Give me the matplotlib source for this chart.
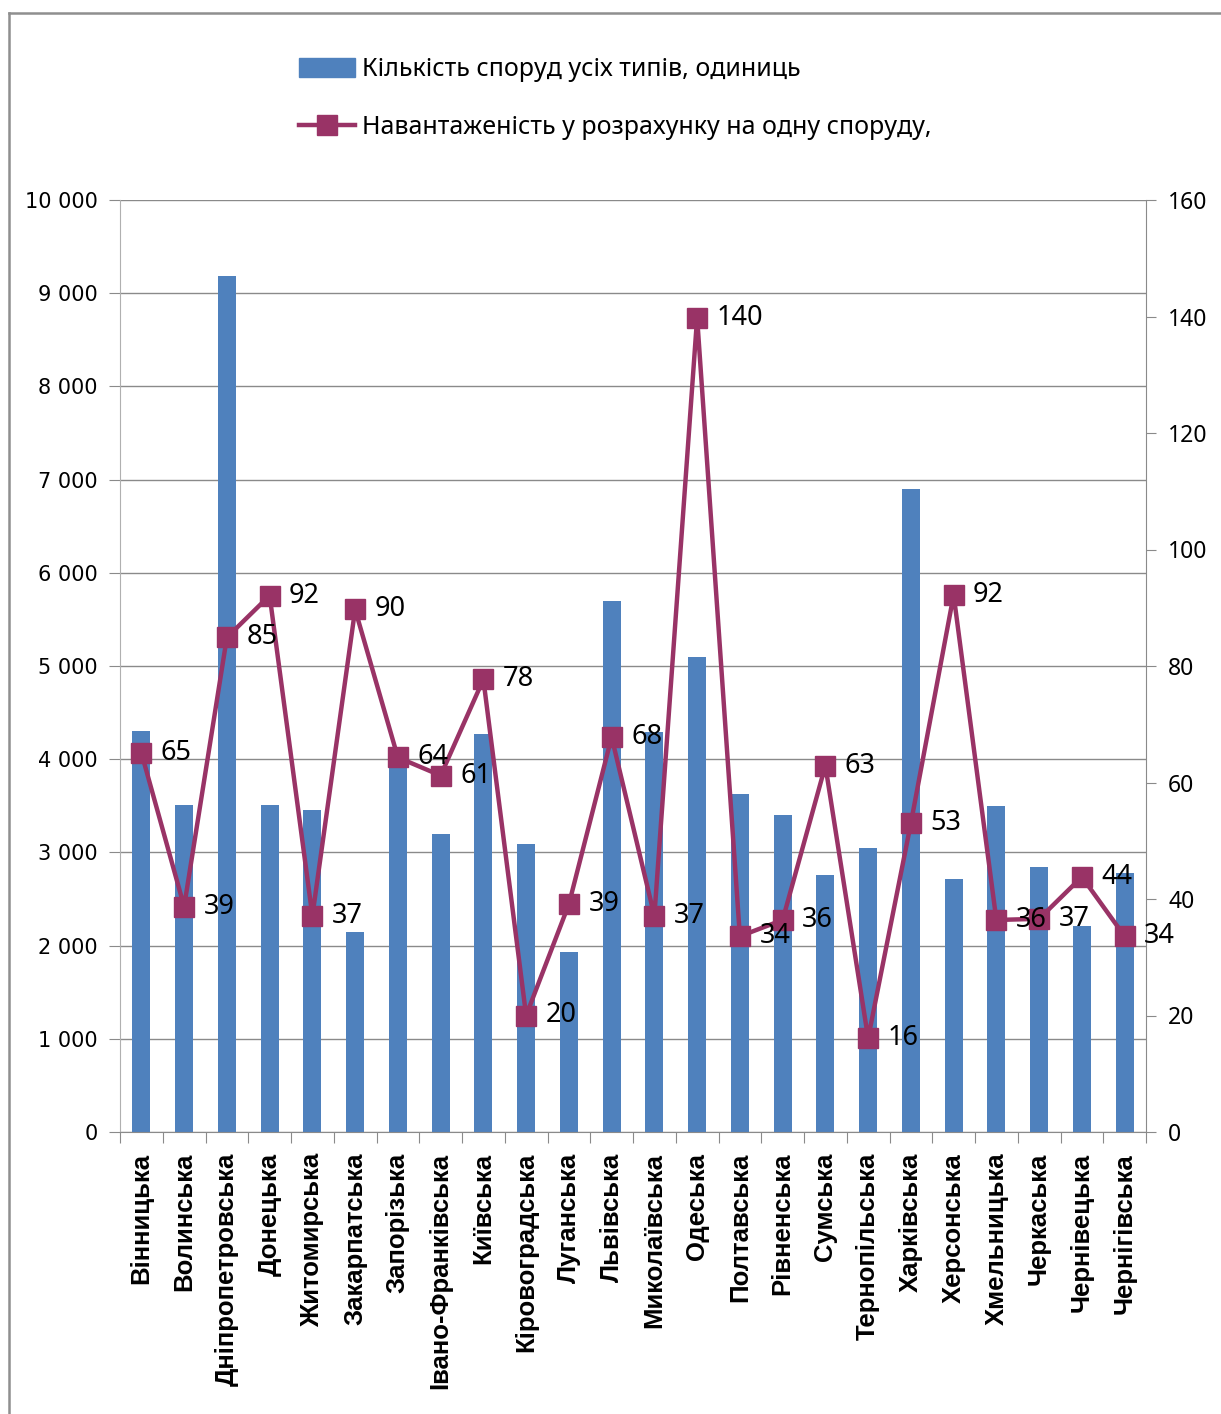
import matplotlib.pyplot as plt
from matplotlib.lines import Line2D
from matplotlib.patches import Patch

# ── data ─────────────────────────────────────────────────────────────────────
regions = [
    "Вінницька", "Волинська", "Дніпропетровська", "Донецька", "Житомирська",
    "Закарпатська", "Запорізька", "Івано-Франківська", "Київська",
    "Кіровоградська", "Луганська", "Львівська", "Миколаївська", "Одеська",
    "Полтавська", "Рівненська", "Сумська", "Тернопільська", "Харківська",
    "Херсонська", "Хмельницька", "Черкаська", "Чернівецька", "Чернігівська",
]
buildings = [4300, 3510, 9180, 3510, 3455, 2145, 3950, 3200, 4270, 3090,
             1930, 5700, 4290, 5100, 3625, 3400, 2760, 3050, 6900, 2715,
             3500, 2845, 2210, 2780]
load = [65.1, 38.7, 84.9, 92.1, 37.1, 89.7, 64.3, 61.2, 77.7, 20.0,
        39.1, 67.8, 37.1, 139.8, 33.6, 36.4, 62.9, 16.1, 53.0, 92.2,
        36.4, 36.6, 43.8, 33.6]

left_ticks = list(range(0, 10001, 1000))
right_ticks = list(range(0, 161, 20))

legend_bar = "Кількість споруд усіх типів, одиниць"
legend_line = "Навантаженість у розрахунку на одну споруду,"

BAR_COLOR = "#4f81bd"
LINE_COLOR = "#993366"
GRID = "#8a8a8a"
TXT = ["Noto Sans", "DejaVu Sans"]

fig = plt.figure(figsize=(12.21, 14.14), dpi=100)
ax = fig.add_axes([120 / 1221, 1 - 1132 / 1414, 1026 / 1221, 932 / 1414])

x = list(range(len(regions)))
ax.bar(x, buildings, width=0.42, color=BAR_COLOR, zorder=2)
ax.set_xlim(-0.5, len(regions) - 0.5)
ax.set_ylim(0, 10000)
ax.set_yticks(left_ticks)
ax.set_yticklabels([f"{v:,}".replace(",", " ") for v in left_ticks],
                   family="DejaVu Sans", fontsize=15)
ax.yaxis.grid(True, color=GRID, lw=1)
ax.set_axisbelow(True)

# category ticks sit between the bars, labels under the bars
ax.set_xticks([i - 0.5 for i in range(len(regions) + 1)])
ax.set_xticklabels([])
ax.set_xticks(x, minor=True)
ax.set_xticklabels(regions, minor=True, rotation=90, fontsize=18.5,
                   fontweight="bold", family="Liberation Sans", va="top")
ax.tick_params(axis="x", which="minor", length=0, pad=15)
ax.tick_params(axis="x", which="major", length=8, color=GRID)
ax.tick_params(axis="y", length=8, color=GRID, pad=8)
for s in ["top", "right"]:
    ax.spines[s].set_visible(False)
ax.spines["left"].set_color("#b0b0b0")
ax.spines["bottom"].set_color(GRID)

ax2 = ax.twinx()
ax2.plot(x, load, color=LINE_COLOR, lw=3.2, marker="s", markersize=14,
         markerfacecolor=LINE_COLOR, markeredgecolor=LINE_COLOR, zorder=3)
ax2.set_ylim(0, 160)
ax2.set_yticks(right_ticks)
ax2.set_yticklabels([str(v) for v in right_ticks], family=TXT, fontsize=16.5)
ax2.tick_params(axis="y", length=7, color=GRID, pad=9)
for s in ["top", "left", "bottom"]:
    ax2.spines[s].set_visible(False)
ax2.spines["right"].set_color(GRID)

for xi, v in zip(x, load):
    ax2.annotate(f"{v:.0f}", (xi, v), xytext=(14, 0), textcoords="offset points",
                 ha="left", va="center", fontsize=19.5, family=TXT, zorder=4)

# legend at the top
handles = [
    Patch(facecolor=BAR_COLOR, edgecolor=BAR_COLOR),
    Line2D([0], [0], color=LINE_COLOR, lw=3.2, marker="s", markersize=14),
]
fig.legend(handles, [legend_bar, legend_line], loc="upper left",
           bbox_to_anchor=(276 / 1221, 1 - 35 / 1414), frameon=False,
           prop={"family": TXT, "size": 18}, handlelength=2.25,
           handleheight=0.8, handletextpad=0.3, labelspacing=1.3)

# outer chart frame (only top and left edge visible in the source)
fig.add_artist(Line2D([8.5 / 1221, 1], [1 - 13 / 1414, 1 - 13 / 1414],
                      transform=fig.transFigure, color="#8f8f8f", lw=1.8))
fig.add_artist(Line2D([8.5 / 1221, 8.5 / 1221], [0, 1 - 13 / 1414],
                      transform=fig.transFigure, color="#8f8f8f", lw=1.8))

fig.savefig("out.png", dpi=100)
